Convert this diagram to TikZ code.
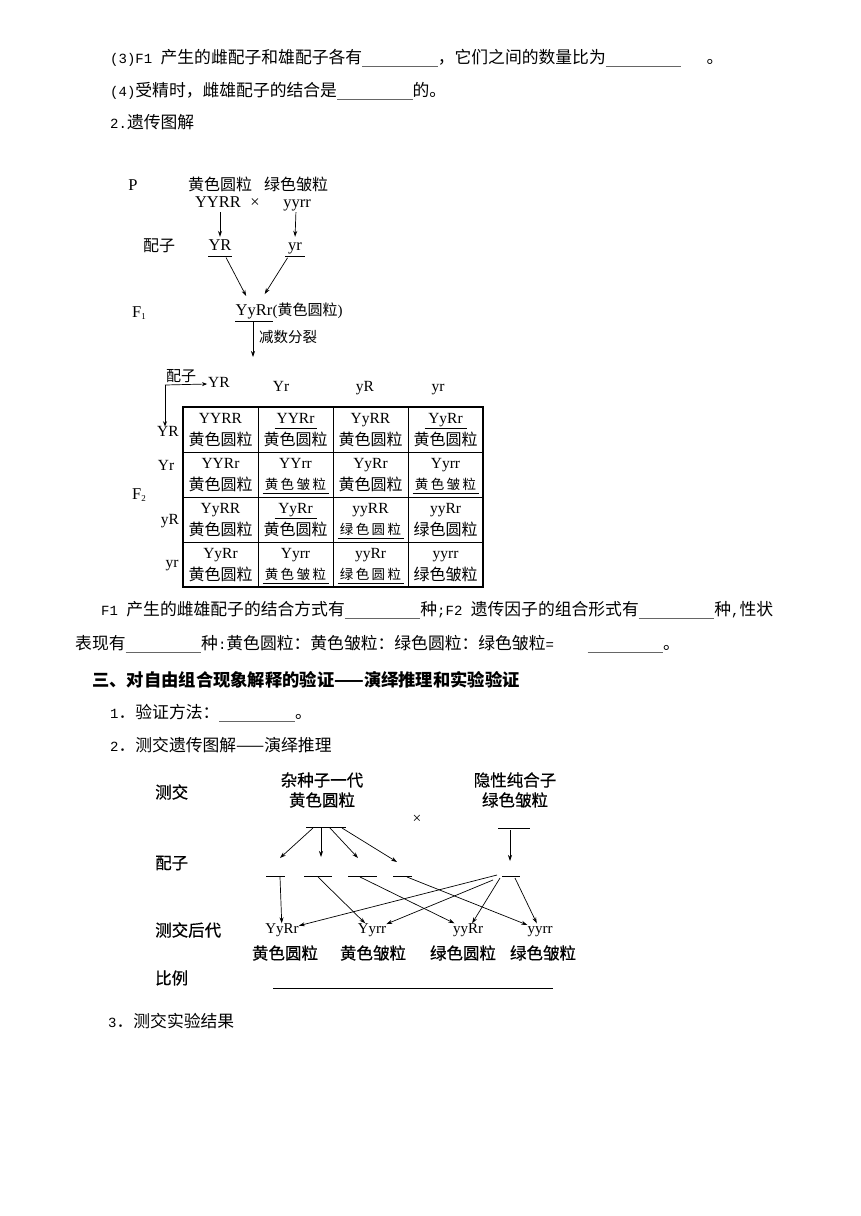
\documentclass[tikz,border=0pt]{standalone}
\usepackage{fontspec}
\setmainfont{Liberation Serif}
\newfontfamily\cjk{Noto Sans CJK SC}
\newfontfamily\cjkm[FakeBold=0.5]{Noto Sans CJK SC}
\newfontfamily\mono{Liberation Mono}
\usetikzlibrary{arrows.meta}
\newcommand{\m}[1]{{\mono\fontsize{14}{14}\selectfont #1}}
\newcommand{\blank}{\textcolor{black!60}{\rule[-3pt]{75.6pt}{0.6pt}}}
\newcommand{\spc}[4]{#1\hspace{2.5pt}#2\hspace{2.5pt}#3\hspace{2.5pt}#4}
\tikzset{
  bt/.style={anchor=west, inner sep=0pt, font=\cjk\fontsize{16.8}{17}\selectfont},
  hd/.style={anchor=west, inner sep=0pt, font=\cjk\bfseries\fontsize{17.3}{18}\selectfont},
  lat/.style={inner sep=0pt, text height=10pt, text depth=3pt, font=\fontsize{15.5}{16}\selectfont},
  latb/.style={inner sep=0pt, text height=11pt, text depth=3pt, font=\fontsize{16.5}{17}\selectfont},
  lm/.style={inner sep=0pt, text height=10pt, text depth=3pt, font=\fontsize{15}{15}\selectfont},
  cj/.style={inner sep=0pt, font=\cjk\fontsize{16}{16}\selectfont},
  cjs/.style={inner sep=0pt, font=\cjk\fontsize{13.5}{14}\selectfont},
  lbl/.style={anchor=west, inner sep=0pt, font=\cjkm\fontsize{16.5}{17}\selectfont},
  cjb/.style={inner sep=0pt, font=\cjkm\fontsize{16.5}{17}\selectfont},
  arr/.style={-{Stealth[length=6pt,width=4pt]}, line width=0.7pt},
  ln/.style={line width=0.8pt},
}
\begin{document}
\begin{tikzpicture}[x=1pt,y=-1pt]
\fill[white] (0,0) rectangle (860,1216);
\useasboundingbox (0,0) rectangle (860,1216);

% ---------- body text top ----------
\node[bt] (t1) at (110,58) {\m{(3)F1 }产生的雌配子和雄配子各有\blank，它们之间的数量比为\blank\m{\ \ \ }。};
\node[bt] (t2) at (110,91) {\m{(4)}受精时，雌雄配子的结合是\blank 的。};
\node[bt] (t3) at (110,122) {\m{2.}遗传图解};

% ---------- diagram 1 ----------
\node[latb] (P) at (133,186) {P};
\node[cj] (pa) at (220,184) {黄色圆粒};
\node[cj] (pb) at (296,184) {绿色皱粒};
\node[latb] (ga) at (218,203) {YYRR};
\node[latb] (cross1) at (255,203) {×};
\node[latb] (gb) at (297,203) {yyrr};
\node[cj] (pz) at (159,246) {配子};
\node[latb] (ya) at (220,246) {YR};
\node[latb] (yb) at (295,246) {yr};
\draw[ln] ([xshift=-12pt,yshift=-3pt]ya.south) -- ([xshift=12pt,yshift=-3pt]ya.south);
\draw[ln] ([xshift=-10pt,yshift=-3pt]yb.south) -- ([xshift=10pt,yshift=-3pt]yb.south);
\draw[arr,shorten <=2pt,shorten >=2pt] ([xshift=2pt]ga.south) -- (ya.north);
\draw[arr,shorten <=2pt,shorten >=2pt] ([xshift=-1pt]gb.south) -- (yb.north);
\node[latb] (F1) at (139,313) {F\raisebox{-2.5pt}{\fontsize{9}{9}\selectfont 1}};
\node[latb] (f1) at (254,311) {YyRr};
\node[cj, anchor=west] (f1p) at (f1.east) {\fontsize{15}{15}\selectfont\rmfamily(\cjk 黄色圆粒\rmfamily)};
\draw[arr, shorten <=13pt, shorten >=17pt] (ya.center) -- (f1.center);
\draw[arr, shorten <=14pt, shorten >=20pt] (yb.center) -- (f1.center);
\draw[ln] ([xshift=-19pt,yshift=-3.5pt]f1.south) -- ([xshift=19pt,yshift=-3.5pt]f1.south);
\coordinate (md) at (253,357);
\draw[arr] ([xshift=-1pt,yshift=-3.5pt]f1.south) -- (md);
\node[cj, anchor=west, font=\cjk\fontsize{14.5}{15}\selectfont] (jsfl) at (259,337) {减数分裂};

% ---------- Punnett square ----------
\node[cj, font=\cjk\fontsize{15}{15}\selectfont] (pz2) at (181,376) {配子};
\coordinate (corner) at (165,385);
\node[lat] (hYR) at (219,384) {YR};
\node[lat] (hYr) at (281,388) {Yr};
\node[lat] (hyR) at (365,388) {yR};
\node[lat] (hyr) at (438,388) {yr};
\node[lat] (rYR) at (168,433) {YR};
\node[lat] (rYr) at (166,467) {Yr};
\node[lat] (ryR) at (170,521) {yR};
\node[lat] (ryr) at (172,564) {yr};
\node[latb] (F2) at (139,495) {F\raisebox{-2.5pt}{\fontsize{9}{9}\selectfont 2}};
\draw[arr,-{Stealth[length=5pt,width=4pt]}] (corner) -- ([xshift=-1pt]hYR.west);
\draw[arr,-{Stealth[length=5pt,width=4pt]}] (corner) -- (corner |- rYR.north);
\node[draw, line width=1.6pt, minimum width=300pt, minimum height=180pt, inner sep=0pt] (tbl) at (333,497) {};
\foreach \x in {258,333,408} \draw[line width=0.8pt] (\x,407) -- (\x,587);
\foreach \y in {452,497,542} \draw[line width=0.8pt] (183,\y) -- (483,\y);
\foreach \r/\c/\g/\p/\ug/\up in {
1/1/YYRR/黄色圆粒/0/0, 1/2/YYRr/黄色圆粒/1/0, 1/3/YyRR/黄色圆粒/0/0, 1/4/YyRr/黄色圆粒/1/0,
2/1/YYRr/黄色圆粒/0/0, 2/2/YYrr/黄色皱粒/0/1, 2/3/YyRr/黄色圆粒/0/0, 2/4/Yyrr/黄色皱粒/0/1,
3/1/YyRR/黄色圆粒/0/0, 3/2/YyRr/黄色圆粒/1/0, 3/3/yyRR/绿色圆粒/0/1, 3/4/yyRr/绿色圆粒/0/0,
4/1/YyRr/黄色圆粒/0/0, 4/2/Yyrr/黄色皱粒/0/1, 4/3/yyRr/绿色圆粒/0/1, 4/4/yyrr/绿色皱粒/0/0}
{
  \pgfmathsetmacro\cx{145.5+75*\c}
  \pgfmathsetmacro\gy{375+45*\r}
  \pgfmathsetmacro\py{394+45*\r}
  \node[lat] (g\r\c) at (\cx,\gy) {\g};
  \ifnum\up=1
    \node[cjs] (p\r\c) at (\cx,\py) {\expandafter\spc\p};
    \draw[line width=0.8pt] ([xshift=-33pt,yshift=-3pt]p\r\c.south) -- ([xshift=33pt,yshift=-3pt]p\r\c.south);
  \else
    \node[cj] (p\r\c) at (\cx,\py) {\p};
  \fi
  \ifnum\ug=1
    \draw[line width=0.8pt] ([xshift=-21pt,yshift=-2pt]g\r\c.south) -- ([xshift=21pt,yshift=-2pt]g\r\c.south);
  \fi
}

% ---------- body text middle ----------
\node[bt] (t4) at (101,610) {\m{F1 }产生的雌雄配子的结合方式有\blank 种\m{;F2 }遗传因子的组合形式有\blank 种\m{,}性状};
\node[bt] (t5) at (75,644) {表现有\blank 种\m{:}黄色圆粒：黄色皱粒：绿色圆粒：绿色皱粒\m{=\ \ \ \ }\blank。};
\node[hd] (h3) at (92,680) {三、对自由组合现象解释的验证——演绎推理和实验验证};
\node[bt] (t6) at (110,713) {\m{1}．验证方法：\blank。};
\node[bt] (t7) at (110,745) {\m{2}．测交遗传图解——演绎推理};

% ---------- diagram 2 ----------
\node[lbl] (lc) at (155,792) {测交};
\node[cjb] (la1) at (322,780) {杂种子一代};
\node[cjb] (la2) at (322,800) {黄色圆粒};
\node[cjb] (lb1) at (515,780) {隐性纯合子};
\node[cjb] (lb2) at (515,800) {绿色皱粒};
\node[lat] (cross2) at (417,820) {×};
\coordinate (pl) at (326,827);
\coordinate (pr) at (514,828);
\draw[ln] ([xshift=-20pt]pl) -- ([xshift=20pt]pl);
\draw[ln] ([xshift=-16pt]pr) -- ([xshift=16pt]pr);
\node[lbl] (lg) at (155,863) {配子};
\coordinate (gm1) at (275.5,876);
\coordinate (gm2) at (318,876);
\coordinate (gm3) at (362.5,876);
\coordinate (gm4) at (402.5,876);
\coordinate (gm5) at (511,876);
\draw[ln] ([xshift=-9.5pt]gm1) -- ([xshift=9.5pt]gm1);
\draw[ln] ([xshift=-14pt]gm2) -- ([xshift=14pt]gm2);
\draw[ln] ([xshift=-14.5pt]gm3) -- ([xshift=14.5pt]gm3);
\draw[ln] ([xshift=-9.5pt]gm4) -- ([xshift=9.5pt]gm4);
\draw[ln] ([xshift=-9pt]gm5) -- ([xshift=9pt]gm5);
\draw[arr] ([xshift=-13pt,yshift=-1pt]pl) -- ([xshift=4.5pt,yshift=18pt]gm1);
\draw[arr] ([xshift=-5pt,yshift=-1pt]pl) -- ([xshift=3pt,yshift=19pt]gm2);
\draw[arr] ([xshift=4pt,yshift=-1pt]pl) -- ([xshift=-4.5pt,yshift=18pt]gm3);
\draw[arr] ([xshift=16pt,yshift=-1pt]pl) -- ([xshift=-5.5pt,yshift=14pt]gm4);
\draw[arr] ([xshift=-4pt,yshift=-2pt]pr) -- ([xshift=-1pt,yshift=15pt]gm5);
\node[lbl] (lo) at (155,930) {测交后代};
\node[lm] (o1) at (282,930) {YyRr};
\node[lm] (o2) at (372,930) {Yyrr};
\node[lm] (o3) at (468,930) {yyRr};
\node[lm] (o4) at (540,930) {yyrr};
\node[cjb] (q1) at (285,953) {黄色圆粒};
\node[cjb] (q2) at (373,953) {黄色皱粒};
\node[cjb] (q3) at (463,953) {绿色圆粒};
\node[cjb] (q4) at (543,953) {绿色皱粒};
\draw[arr] ([xshift=4.5pt,yshift=-1pt]gm1) -- ([xshift=-2pt,yshift=5pt]o1);
\draw[arr] ([yshift=-1pt]gm2) -- ([xshift=-18pt,yshift=3pt]o2);
\draw[arr] ([xshift=-2.5pt,yshift=-1pt]gm3) -- ([xshift=-5pt,yshift=5pt]o3);
\draw[arr] ([xshift=4.5pt,yshift=-1pt]gm4) -- ([xshift=-7pt,yshift=5pt]o4);
\draw[arr] ([xshift=-14pt,yshift=1pt]gm5) -- ([xshift=1pt,yshift=8pt]o1);
\draw[arr] ([xshift=-18pt,yshift=-4pt]gm5) -- ([xshift=-2pt,yshift=8pt]o2);
\draw[arr] ([xshift=-11pt,yshift=-2pt]gm5) -- ([xshift=-5pt,yshift=6pt]o3);
\draw[arr] ([xshift=4pt,yshift=-2pt]gm5) -- ([xshift=-10pt,yshift=5pt]o4);
\node[lbl] (lr) at (155,978) {比例};
\coordinate (bl1) at (273,988);
\coordinate (bl2) at (553,988);
\draw[ln] (bl1) -- (bl2);

\node[bt] (t8) at (108,1021) {\m{3}．测交实验结果};
\end{tikzpicture}
\end{document}
